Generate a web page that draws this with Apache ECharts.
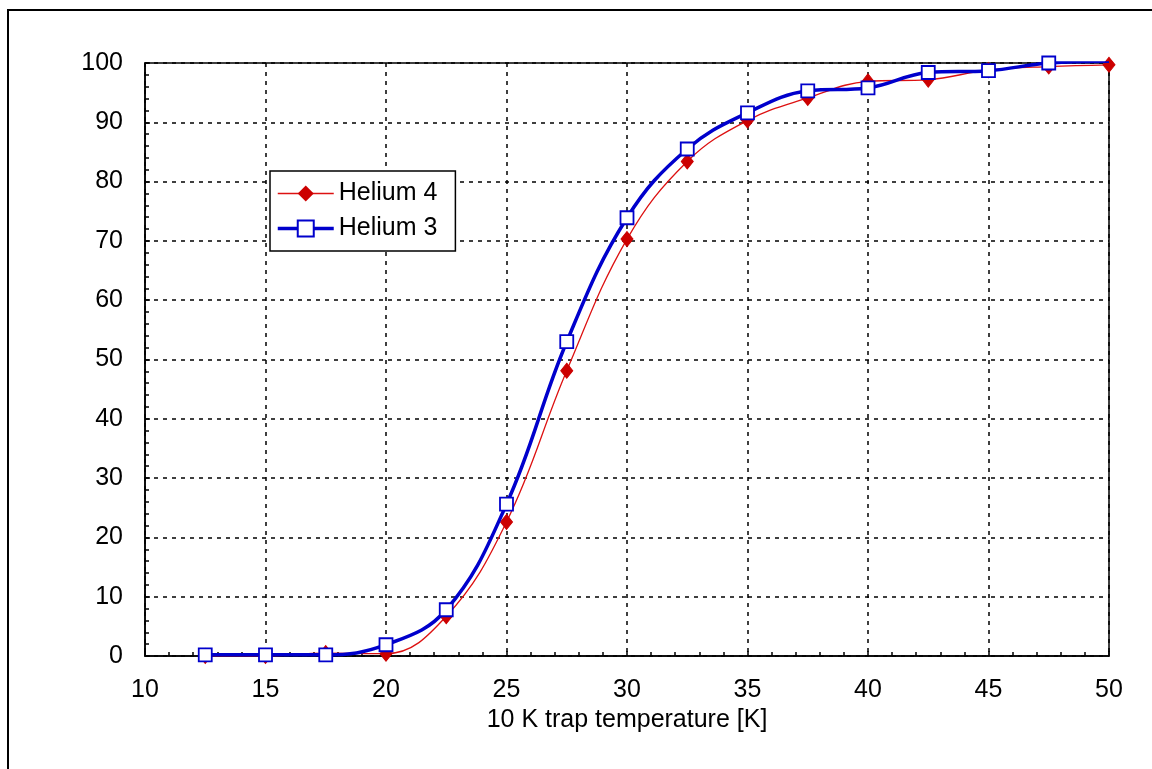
<!DOCTYPE html>
<html><head><meta charset="utf-8">
<script src="https://cdn.jsdelivr.net/npm/echarts@6/dist/echarts.min.js"></script>
<style>html,body{margin:0;padding:0;background:#fff}#c{width:1152px;height:769px}</style>
</head><body><div id="c"></div>
<script>
const temperatures = [12.5, 15, 17.5, 20, 22.5, 25, 27.5, 30, 32.5, 35, 37.5, 40, 42.5, 45, 47.5, 50];
const helium4 = [0.0, 0.0, 0.5, 0.4, 6.7, 22.6, 48.1, 70.3, 83.4, 90.3, 94.1, 96.9, 97.2, 98.8, 99.4, 99.7];
const helium3 = [0.2, 0.2, 0.2, 1.9, 7.8, 25.6, 53.0, 73.9, 85.5, 91.6, 95.3, 95.8, 98.4, 98.7, 100.0, 100.3];
const xTicks = {min: 10, max: 50, interval: 5};
const yTicks = {min: 0, max: 100, interval: 10};
const xTitle = '10 K trap temperature [K]';
const names = ['Helium 4', 'Helium 3'];

const pairs = (xs, ys) => xs.map((x, i) => [x, ys[i]]);
const font = 'Liberation Sans, Arial, sans-serif';
const fs = 25;
const chart = echarts.init(document.getElementById('c'), null, {renderer: 'canvas'});
chart.setOption({
  backgroundColor: '#fff',
  animation: false,
  graphic: [{type: 'rect', shape: {x: 8, y: 10, width: 1300, height: 900}, style: {fill: 'none', stroke: '#000', lineWidth: 2}, z: -1}],
  grid: {left: 145, right: 43, top: 63, bottom: 113, show: true, borderColor: '#000', borderWidth: 1.5, backgroundColor: 'transparent'},
  legend: {
    orient: 'vertical', left: 270, top: 171, padding: [10, 18, 10, 6], itemGap: 10,
    backgroundColor: '#fff', borderColor: '#000', borderWidth: 1.5,
    itemWidth: 56, itemHeight: 20,
    textStyle: {fontFamily: font, fontSize: fs, color: '#000'},
    data: [
      {name: names[0], lineStyle: {width: 1.3}},
      {name: names[1], lineStyle: {width: 3.5}}
    ]
  },
  xAxis: {
    type: 'value', min: xTicks.min, max: xTicks.max, interval: xTicks.interval,
    name: xTitle, nameLocation: 'middle', nameGap: 43,
    nameTextStyle: {fontFamily: font, fontSize: fs, color: '#000', verticalAlign: 'top'},
    axisLine: {show: true, onZero: false, lineStyle: {color: '#000', width: 1.5}},
    axisTick: {show: true, inside: true, length: 5, lineStyle: {color: '#000', width: 1.5}},
    minorTick: {show: true, splitNumber: 5, length: 4, lineStyle: {color: '#000', width: 1.5}},
    axisLabel: {fontFamily: font, fontSize: fs, color: '#000', margin: 22},
    splitLine: {show: true, lineStyle: {color: '#000', type: [4, 5], width: 1.5}}
  },
  yAxis: {
    type: 'value', min: yTicks.min, max: yTicks.max, interval: yTicks.interval,
    axisLine: {show: true, onZero: false, lineStyle: {color: '#000', width: 1.5}},
    axisTick: {show: true, inside: true, length: 5, lineStyle: {color: '#000', width: 1.5}},
    minorTick: {show: true, splitNumber: 5, length: 4, lineStyle: {color: '#000', width: 1.5}},
    axisLabel: {fontFamily: font, fontSize: fs, color: '#000', margin: 22},
    splitLine: {show: true, lineStyle: {color: '#000', type: [4, 5], width: 1.5}}
  },
  series: [
    {
      name: names[0], type: 'line', data: pairs(temperatures, helium4), smooth: 0.4,
      symbol: 'diamond', symbolSize: [12, 15], showSymbol: true, z: 2,
      itemStyle: {color: '#cc0000', borderColor: '#cc0000'},
      lineStyle: {color: '#dd1111', width: 1.3}
    },
    {
      name: names[1], type: 'line', data: pairs(temperatures, helium3), smooth: 0.4,
      symbol: 'rect', symbolSize: 13, showSymbol: true, z: 3,
      itemStyle: {color: '#fff', borderColor: '#0000cc', borderWidth: 1.8},
      lineStyle: {color: '#0000cc', width: 3.5}
    }
  ]
});
</script></body></html>
